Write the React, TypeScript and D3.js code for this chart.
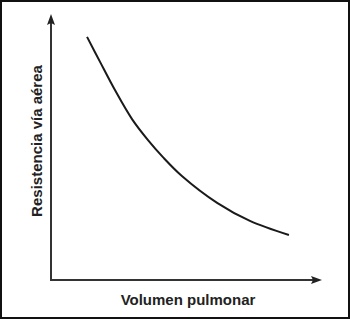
import React from "react";
import * as d3 from "d3";

const W = 350;
const H = 319;

// Curve values (arbitrary units 0..100)
const volume = [13.3, 18.1, 23.6, 29.9, 35.8, 41.3, 48.3, 61.3, 73.4, 87.8];
const resistance = [91.4, 82.0, 71.4, 60.5, 52.6, 46.2, 39.1, 29.0, 22.2, 16.9];

const xLabel = "Volumen pulmonar";
const yLabel = "Resistencia vía aérea";

export default function App() {
  const x = d3.scaleLinear().domain([0, 100]).range([51, 322]);
  const y = d3.scaleLinear().domain([0, 100]).range([280, 14]);
  const pts: [number, number][] = volume.map((v, i) => [v, resistance[i]]);
  const line = d3
    .line<[number, number]>()
    .x((d) => x(d[0]))
    .y((d) => y(d[1]))
    .curve(d3.curveCatmullRom.alpha(0.5));

  const x0 = x(0);
  const y0 = y(0);
  const xEnd = x(100);
  const yTop = y(100);

  return (
    <svg
      width={W}
      height={H}
      style={{ position: "absolute", left: 0, top: 0, display: "block" }}
    >
      <rect x={0} y={0} width={W} height={H} fill="#fff" />
      <rect x={1} y={1} width={W - 2} height={H - 2} fill="none" stroke="#111" strokeWidth={2} />
      {/* axes */}
      <path d={`M${x0},${yTop + 8} L${x0},${y0} L${xEnd - 8},${y0}`} fill="none" stroke="#333" strokeWidth={2} />
      <path d={`M${x0},${yTop} L${x0 - 4},${yTop + 11} L${x0},${yTop + 9} L${x0 + 4},${yTop + 11} Z`} fill="#222" />
      <path d={`M${xEnd},${y0} L${xEnd - 11},${y0 - 4} L${xEnd - 9},${y0} L${xEnd - 11},${y0 + 4} Z`} fill="#222" />
      {/* curve */}
      <path d={line(pts) || ""} fill="none" stroke="#1a1a1a" strokeWidth={2} />
      {/* labels */}
      <text
        x={188}
        y={305}
        textAnchor="middle"
        fontFamily="'Liberation Sans', Arial, sans-serif"
        fontWeight="bold"
        fontSize={15}
        fill="#222"
      >
        {xLabel}
      </text>
      <text
        transform={`translate(42,141) rotate(-90)`}
        textAnchor="middle"
        fontFamily="'Liberation Sans', Arial, sans-serif"
        fontWeight="bold"
        fontSize={15}
        fill="#222"
      >
        {yLabel}
      </text>
    </svg>
  );
}
